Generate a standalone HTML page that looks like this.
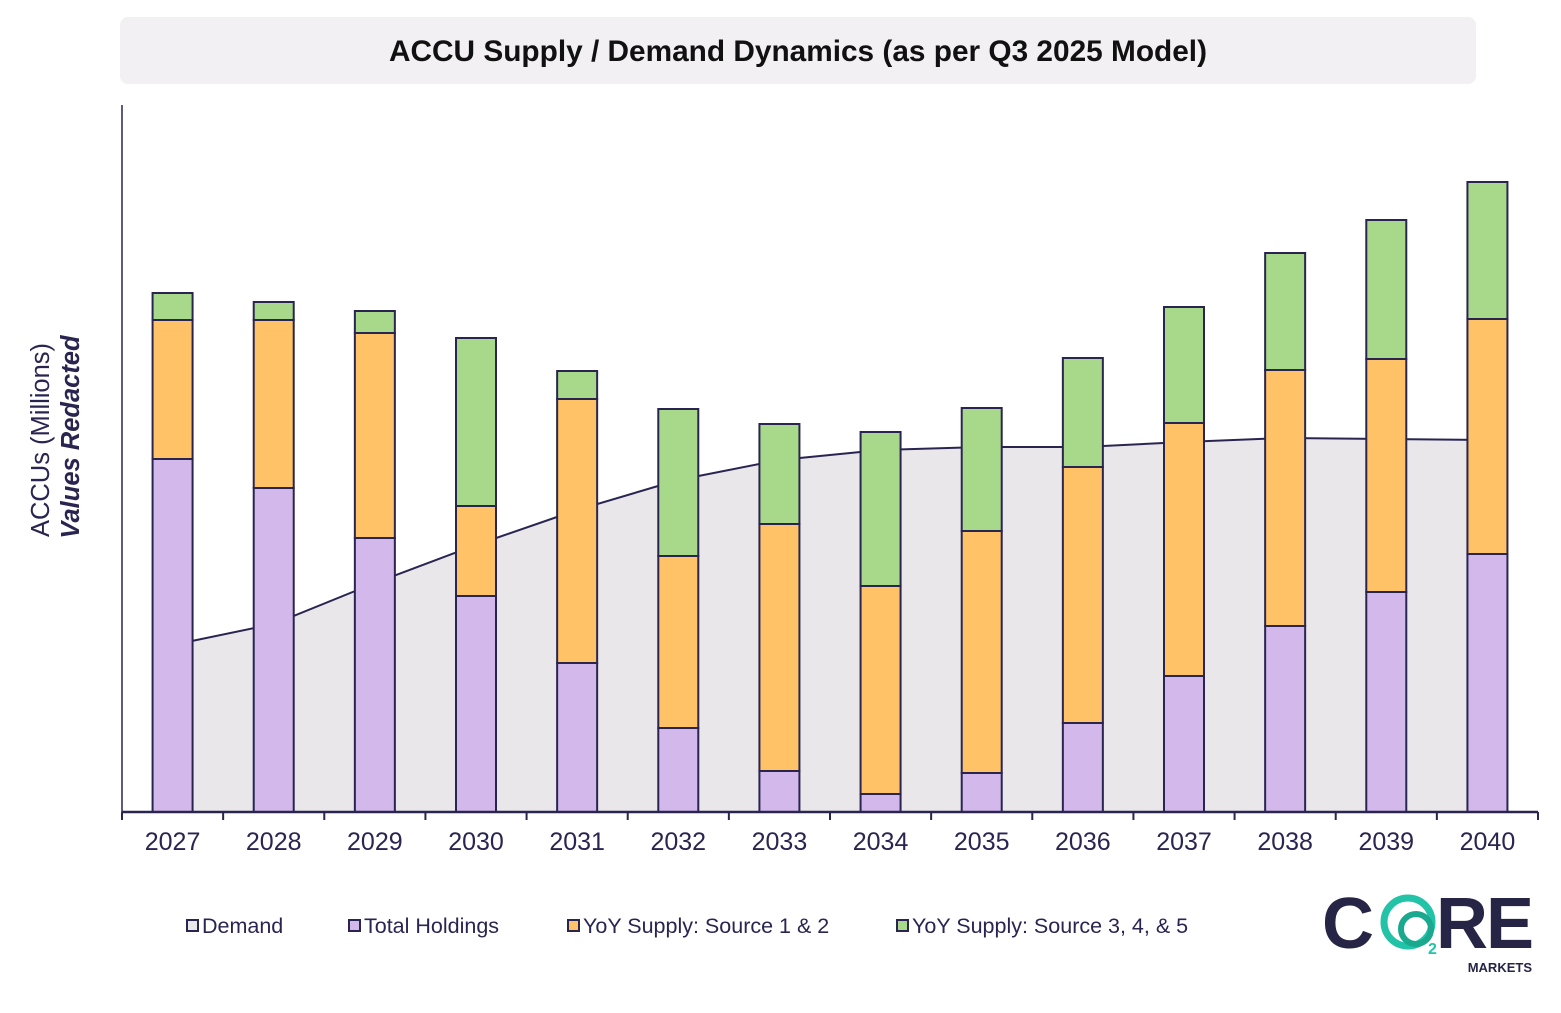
<!DOCTYPE html>
<html><head><meta charset="utf-8">
<style>
body{margin:0;background:#fff;width:1561px;height:1008px;overflow:hidden;font-family:"Liberation Sans",sans-serif;}
</style></head>
<body>
<svg id="chart" width="1561" height="1008" xmlns="http://www.w3.org/2000/svg">
<rect x="120" y="17" width="1356" height="67" rx="8" fill="#f2f0f3"/>
<text x="798" y="61" text-anchor="middle" font-family="Liberation Sans, sans-serif" font-weight="bold" font-size="29.8" fill="#111">ACCU Supply / Demand Dynamics (as per Q3 2025 Model)</text>
<g fill="#2a2550" font-family="Liberation Sans, sans-serif" font-size="25.5">
<text transform="translate(49,440) rotate(-90)" text-anchor="middle">ACCUs (Millions)</text>
<text transform="translate(79,437) rotate(-90)" text-anchor="middle" font-weight="bold" font-style="italic">Values Redacted</text>
</g>
<g id="plot"></g>
<g font-family="Liberation Sans, sans-serif" font-size="21.5" fill="#2a2550">
<g><rect x="187" y="920" width="11" height="11" fill="#e9e7ea" stroke="#2a2550" stroke-width="2"/><text x="202" y="933">Demand</text></g>
<g><rect x="349" y="920" width="11" height="11" fill="#d3b8ec" stroke="#2a2550" stroke-width="2"/><text x="364" y="933">Total Holdings</text></g>
<g><rect x="568" y="920" width="11" height="11" fill="#ffc266" stroke="#2a2550" stroke-width="2"/><text x="583" y="933">YoY Supply: Source 1 &amp; 2</text></g>
<g><rect x="897" y="920" width="11" height="11" fill="#a8d88a" stroke="#2a2550" stroke-width="2"/><text x="912" y="933">YoY Supply: Source 3, 4, &amp; 5</text></g>
</g>
<g font-family="Liberation Sans, sans-serif" font-weight="bold" fill="#262546">
<text x="1322" y="948" font-size="72" letter-spacing="-2">C</text>
<circle cx="1408" cy="922" r="24" fill="none" stroke="#22c3a6" stroke-width="7"/>
<circle cx="1416" cy="929" r="15" fill="none" stroke="#1aa88e" stroke-width="6"/>
<text x="1428" y="954" font-size="16" fill="#22c3a6">2</text>
<text x="1436" y="948" font-size="72" letter-spacing="-2">RE</text>
<text x="1532" y="972" font-size="13" text-anchor="end">MARKETS</text>
</g>
</svg>
<script>
const years=["2027","2028","2029","2030","2031","2032","2033","2034","2035","2036","2037","2038","2039","2040"];
const holdings=[353,324,274,216,149,84,41,18,39,89,136,186,220,258];
const source12=[139,168,205,90,264,172,247,208,242,256,253,256,233,235];
const source345=[27,18,22,168,28,147,100,154,123,109,116,117,139,137];
const demand=[167,188,229,267,302,332,352,362,365,365,370,374,373,372];
const NS="http://www.w3.org/2000/svg";
const plot=document.getElementById('plot');
const x0=122,x1=1538,y0=812,yTop=105;
const bw=(x1-x0)/years.length;
const xc=i=>x0+bw*(i+0.5);
const ys=v=>y0-v;
function mk(t,a){const e=document.createElementNS(NS,t);for(const k in a)e.setAttribute(k,a[k]);plot.appendChild(e);return e;}
let d=`M${xc(0)},${y0}`;demand.forEach((v,i)=>d+=` L${xc(i)},${ys(v)}`);d+=` L${xc(demand.length-1)},${y0} Z`;
const area=mk('path',{d:d,fill:'#e9e7ea'});


let ld='';demand.forEach((v,i)=>ld+=(i?' L':'M')+xc(i)+','+ys(v));
const line=mk('path',{d:ld,fill:'none',stroke:'#2a2550','stroke-width':2});


const series=[[holdings,'#d3b8ec','holdings'],[source12,'#ffc266','source-1-2'],[source345,'#a8d88a','source-3-4-5']];
years.forEach((y,i)=>{let base=0;series.forEach(([arr,col,nm])=>{const v=arr[i];
const r=mk('rect',{x:xc(i)-20,y:ys(base+v),width:40,height:v,fill:col,stroke:'#2a2550','stroke-width':2});


base+=v;});});
const ya=mk('line',{x1:x0,y1:yTop,x2:x0,y2:y0,stroke:'#2a2550','stroke-width':1.5});


const xa=mk('line',{x1:x0,y1:y0,x2:x1,y2:y0,stroke:'#2a2550','stroke-width':2.5});


for(let i=0;i<=years.length;i++){const t=mk('line',{x1:x0+bw*i,y1:y0,x2:x0+bw*i,y2:y0+8,stroke:'#2a2550','stroke-width':2});

}
years.forEach((y,i)=>{const t=mk('text',{x:xc(i),y:850,'text-anchor':'middle','font-size':25,fill:'#2a2550','font-family':'Liberation Sans, sans-serif'});t.textContent=y;

});
</script>
</body></html>
